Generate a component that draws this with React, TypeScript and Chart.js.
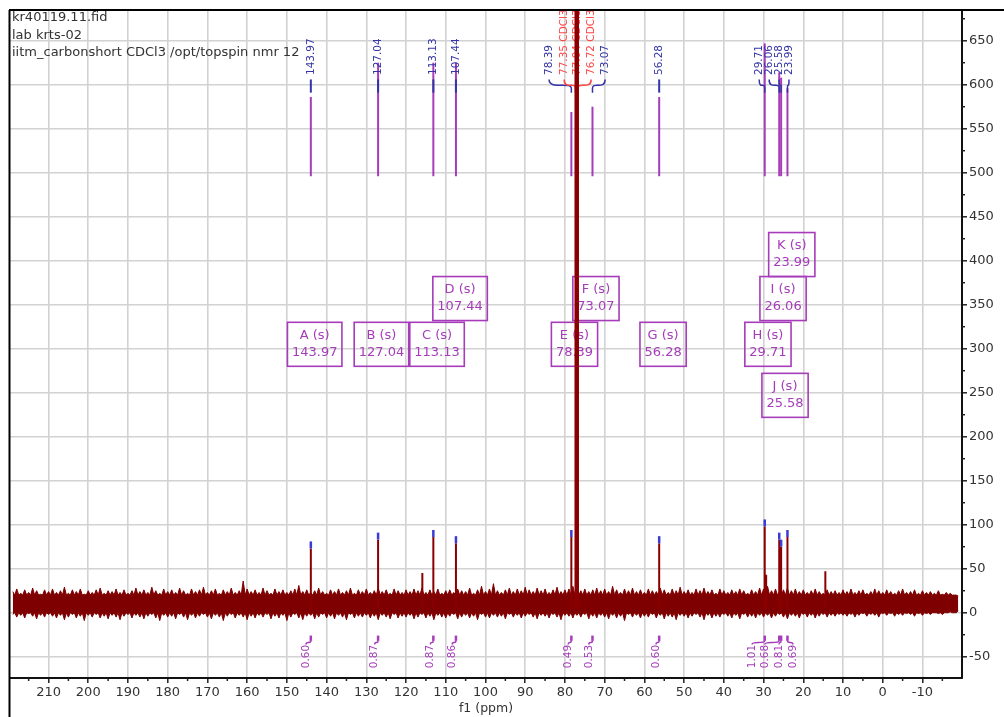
import React, { useEffect, useRef } from 'react';
import { Chart, registerables } from 'chart.js';

Chart.register(...registerables);

// ---------------- data ----------------
const headerLines = ['kr40119.11.fid', 'lab krts-02', 'iitm_carbonshort CDCl3 /opt/topspin nmr 12'];
const xAxisTitle = 'f1 (ppm)';
const xMinPpm = -19.95;
const xMaxPpm = 219.7;
const yMinVal = -74.2;
const yMaxVal = 684.9;

// baseline noise: spike tips, one value per ppm starting at 219 ppm and going down,
// and the solid core edges of the noise band between the tips
const bandFirstPpm = 219;
const bandCoreTop = 20;
const bandCoreBottom = 0;
const bandUpper = [
  24, 27, 22, 26, 23, 28, 25, 21, 26, 24,
  27, 23, 25, 29, 22, 26, 24, 27, 21, 25,
  23, 26, 28, 22, 25, 24, 27, 23, 26, 22,
  25, 28, 24, 26, 23, 29, 25, 22, 27, 24,
  26, 23, 28, 25, 22, 27, 24, 26, 29, 23,
  25, 27, 22, 26, 24, 28, 23, 25, 36, 27,
  24, 26, 23, 28, 25, 22, 27, 24, 26, 23,
  25, 27, 31, 24, 26, 23, 25, 28, 24, 22,
  26, 24, 27, 23, 25, 28, 22, 26, 24, 27,
  23, 25, 28, 24, 26, 22, 27, 25, 23, 26,
  24, 27, 25, 28, 23, 26, 24, 27, 22, 25,
  26, 23, 27, 25, 24, 28, 22, 26, 30, 24,
  27, 33, 25, 23, 26, 28, 24, 27, 25, 29,
  26, 24, 28, 25, 27, 23, 26, 29, 24, 26,
  27, 30, 28, 25, 27, 24, 26, 28, 25, 27,
  24, 30, 26, 23, 27, 25, 28, 24, 26, 23,
  27, 25, 24, 28, 26, 23, 27, 25, 29, 24,
  26, 23, 27, 25, 28, 24, 26, 22, 27, 25,
  23, 26, 24, 27, 25, 22, 26, 24, 28, 27,
  30, 25, 27, 24, 26, 28, 25, 27, 24, 26,
  23, 25, 27, 24, 22, 26, 24, 25, 23, 26,
  24, 27, 23, 25, 26, 22, 24, 27, 25, 23,
  26, 24, 22, 25, 27, 23, 24, 26, 22, 25,
  23, 24, 22, 25, 21, 23, 22, 20, 19,
];
const bandLower = [
  -2, -5, -3, -6, -1, -4, -7, -3, -5, -2,
  -4, -6, -3, -8, -5, -2, -6, -4, -9, -3,
  -5, -2, -6, -4, -7, -3, -5, -8, -4, -2,
  -6, -3, -5, -7, -4, -2, -6, -9, -3, -5,
  -4, -7, -2, -5, -8, -3, -6, -4, -2, -5,
  -7, -3, -5, -9, -4, -2, -6, -3, -5, -8,
  -4, -6, -3, -5, -2, -7, -4, -6, -3, -9,
  -5, -2, -6, -8, -4, -3, -7, -5, -2, -6,
  -4, -7, -3, -5, -8, -2, -6, -4, -5, -3,
  -6, -4, -8, -3, -5, -7, -2, -6, -4, -5,
  -3, -7, -5, -2, -6, -4, -8, -3, -5, -6,
  -4, -2, -7, -5, -3, -6, -4, -8, -2, -5,
  -6, -3, -5, -4, -7, -2, -5, -3, -6, -4,
  -2, -5, -7, -3, -4, -6, -2, -5, -8, -3,
  -4, -6, -3, -5, -2, -7, -4, -6, -3, -5,
  -7, -3, -6, -4, -9, -2, -5, -3, -6, -4,
  -5, -2, -6, -3, -7, -4, -5, -8, -3, -4,
  -6, -4, -2, -5, -8, -3, -6, -4, -5, -2,
  -4, -6, -3, -7, -2, -5, -4, -6, -3, -5,
  -3, -6, -4, -2, -5, -7, -3, -4, -6, -2,
  -5, -3, -6, -4, -2, -5, -3, -4, -2, -3,
  -4, -2, -5, -3, -1, -4, -2, -3, -5, -1,
  -3, -1, -4, -2, -3, -1, -2, -4, -1, -3,
  -1, -2, 0, -1, -2, 0, 1, 0, 2,
];

// spectrum peaks
const peakShifts = [143.97, 127.04, 115.9, 113.13, 107.44, 78.39, 77.35, 77.04, 76.72, 56.28, 29.71, 29.35, 26.06, 25.58, 23.99, 14.45];
const peakHeights = [73, 83, 45, 86, 79, 86, 3000, 3000, 3000, 79, 98, 43, 83, 75, 86, 47];

// picked peaks (blue tops)
const pickedShifts = [143.97, 127.04, 113.13, 107.44, 78.39, 56.28, 29.71, 26.06, 25.58, 23.99];
const pickedHeights = [73, 83, 86, 79, 86, 79, 98, 83, 75, 86];

// peak labels at top
const peakLabels = ['143.97', '127.04', '113.13', '107.44', '78.39', '77.35 CDCl3', '77.04 CDCl3', '76.72 CDCl3', '73.07', '56.28', '29.71', '26.06', '25.58', '23.99'];
const peakLabelShifts = [143.97, 127.04, 113.13, 107.44, 78.39, 77.35, 77.04, 76.72, 73.07, 56.28, 29.71, 26.06, 25.58, 23.99];
const peakLabelSolvent = [false, false, false, false, false, true, true, true, false, false, false, false, false, false];

// multiplets
const multipletNames = ['A', 'B', 'C', 'D', 'E', 'F', 'G', 'H', 'I', 'J', 'K'];
const multipletShifts = [143.97, 127.04, 113.13, 107.44, 78.39, 73.07, 56.28, 29.71, 26.06, 25.58, 23.99];
const multipletBarTops = [586, 625, 625, 625, 569, 575, 586, 647, 614, 608, 596];
const multipletIntegrals = ['0.60', '0.87', '0.87', '0.86', '0.49', '0.53', '0.60', '1.01', '0.68', '0.81', '0.69'];

// ---------------- layout (annotation anchors) ----------------
const peakLabelAnchorPpm = [143.97, 127.04, 113.13, 107.44, 84.0, 80.2, 76.97, 73.4, 69.9, 56.28, 31.1, 28.6, 26.1, 23.6];
const boxAnchorPpm = [143.0, 126.2, 112.2, 106.4, 77.6, 72.2, 55.3, 28.9, 25.1, 24.6, 22.9];
const boxAnchorVal = [305, 305, 305, 357, 305, 357, 305, 305, 357, 247, 407];
const integralAnchorPpm = [145.2, 127.9, 113.9, 108.4, 79.2, 74.0, 57.1, 32.9, 29.7, 26.1, 22.6];

const SPEC = '#7f0000';
const BLUE = '#3434a6';
const RED = '#ff4545';
const PURPLE = '#a63cba';
const FONT = '"DejaVu Sans", Verdana, sans-serif';

const annotPlugin = {
  id: 'nmrAnnot',
  beforeDatasetsDraw(chart: any) {
    const { ctx, chartArea: ca, scales } = chart;
    const x = scales.x, y = scales.y;
    ctx.save();
    ctx.beginPath();
    ctx.rect(ca.left, ca.top, ca.right - ca.left, ca.bottom - ca.top);
    ctx.clip();

    const line = (x1: number, y1: number, x2: number, y2: number) => {
      ctx.beginPath(); ctx.moveTo(x1, y1); ctx.lineTo(x2, y2); ctx.stroke();
    };

    // header text
    ctx.fillStyle = '#333';
    ctx.font = `13px ${FONT}`;
    ctx.textAlign = 'left';
    ctx.textBaseline = 'middle';
    headerLines.forEach((t, i) => ctx.fillText(t, ca.left + 2, ca.top + 8 + i * 17.5));

    // multiplet bars
    ctx.strokeStyle = PURPLE;
    ctx.lineWidth = 2;
    multipletShifts.forEach((s, i) => {
      const px = x.getPixelForValue(s);
      line(px, y.getPixelForValue(496), px, y.getPixelForValue(multipletBarTops[i]));
    });

    // peak labels
    ctx.font = `10.5px ${FONT}`;
    peakLabels.forEach((t, i) => {
      const ax = x.getPixelForValue(peakLabelAnchorPpm[i]);
      const px = x.getPixelForValue(peakLabelShifts[i]);
      const col = peakLabelSolvent[i] ? RED : BLUE;
      ctx.save();
      ctx.translate(ax, y.getPixelForValue(611));
      ctx.rotate(-Math.PI / 2);
      ctx.textAlign = 'left';
      ctx.textBaseline = 'middle';
      ctx.fillStyle = col;
      ctx.fillText(t, 0, 0);
      ctx.restore();
      const y1 = y.getPixelForValue(606), y2 = y.getPixelForValue(596), y3 = y.getPixelForValue(591);
      ctx.strokeStyle = col;
      ctx.beginPath();
      if (Math.abs(ax - px) < 0.5) {
        ctx.lineWidth = 2;
        ctx.moveTo(px, y1); ctx.lineTo(px, y3);
      } else {
        ctx.lineWidth = 1.5;
        ctx.moveTo(ax, y1);
        ctx.bezierCurveTo(ax, y2 + 2, px, y1 + 2, px, y2);
        ctx.lineTo(px, y3);
      }
      ctx.stroke();
    });

    // multiplet boxes
    ctx.font = `13px ${FONT}`;
    multipletNames.forEach((n, i) => {
      const cx = x.getPixelForValue(boxAnchorPpm[i]);
      const cy = y.getPixelForValue(boxAnchorVal[i]);
      const l1 = `${n} (s)`;
      const l2 = multipletShifts[i].toFixed(2);
      const w = Math.max(ctx.measureText(l1).width, ctx.measureText(l2).width) + 9;
      const h = 44;
      ctx.strokeStyle = PURPLE;
      ctx.lineWidth = 1.6;
      ctx.strokeRect(cx - w / 2, cy - h / 2, w, h);
      ctx.fillStyle = PURPLE;
      ctx.textAlign = 'center';
      ctx.textBaseline = 'middle';
      ctx.fillText(l1, cx, cy - 9);
      ctx.fillText(l2, cx, cy + 8);
    });

    // integrals
    ctx.font = `10.5px ${FONT}`;
    multipletIntegrals.forEach((t, i) => {
      const px = x.getPixelForValue(multipletShifts[i]);
      const tx = x.getPixelForValue(integralAnchorPpm[i]);
      const yA = y.getPixelForValue(-26), yB = y.getPixelForValue(-32), yT = y.getPixelForValue(-36);
      ctx.strokeStyle = PURPLE;
      ctx.lineWidth = 2.5;
      line(px, yA, px, yB);
      ctx.lineWidth = 1.5;
      ctx.beginPath();
      ctx.moveTo(px, yB);
      ctx.bezierCurveTo(px, yT, tx, yB, tx, yT);
      ctx.stroke();
      ctx.save();
      ctx.translate(tx, y.getPixelForValue(-63));
      ctx.rotate(-Math.PI / 2);
      ctx.textAlign = 'left';
      ctx.textBaseline = 'middle';
      ctx.fillStyle = PURPLE;
      ctx.fillText(t, 0, 0);
      ctx.restore();
    });

    ctx.restore();
  },
  afterDatasetsDraw(chart: any) {
    const { ctx, chartArea: ca, scales } = chart;
    const x = scales.x, y = scales.y;
    ctx.save();
    ctx.beginPath();
    ctx.rect(ca.left, ca.top, ca.right - ca.left, ca.bottom - ca.top);
    ctx.clip();
    ctx.strokeStyle = '#3b3bd6';
    ctx.lineWidth = 2.5;
    pickedShifts.forEach((s, i) => {
      const px = x.getPixelForValue(s);
      ctx.beginPath();
      ctx.moveTo(px, y.getPixelForValue(pickedHeights[i]));
      ctx.lineTo(px, y.getPixelForValue(pickedHeights[i] + 8));
      ctx.stroke();
    });
    ctx.restore();
  },
  afterDraw(chart: any) {
    const { ctx, chartArea: ca, scales, width, height } = chart;
    const x = scales.x, y = scales.y;
    ctx.save();
    ctx.strokeStyle = '#000';
    ctx.lineWidth = 2;
    ctx.beginPath();
    ctx.moveTo(ca.left - 1, ca.top); ctx.lineTo(width, ca.top);
    ctx.moveTo(ca.left - 0.5, ca.top); ctx.lineTo(ca.left - 0.5, height);
    ctx.stroke();
    // minor ticks
    ctx.strokeStyle = '#222';
    ctx.lineWidth = 1.5;
    for (let v = -15; v <= 215; v += 10) {
      const px = x.getPixelForValue(v);
      ctx.beginPath(); ctx.moveTo(px, ca.bottom); ctx.lineTo(px, ca.bottom + 3); ctx.stroke();
    }
    for (let v = -25; v <= 675; v += 50) {
      const py = y.getPixelForValue(v);
      ctx.beginPath(); ctx.moveTo(ca.right, py); ctx.lineTo(ca.right + 3, py); ctx.stroke();
    }
    ctx.fillStyle = '#333';
    ctx.font = `12.5px ${FONT}`;
    ctx.textAlign = 'center';
    ctx.textBaseline = 'middle';
    ctx.fillText(xAxisTitle, (ca.left + ca.right) / 2, 709);
    ctx.restore();
  },
};

export default function App() {
  const ref = useRef<HTMLCanvasElement | null>(null);
  useEffect(() => {
    if (!ref.current) return;
    const upper: { x: number; y: number }[] = [];
    const lower: { x: number; y: number }[] = [];
    bandUpper.forEach((v, i) => {
      const p = bandFirstPpm - i;
      upper.push({ x: p, y: v });
      lower.push({ x: p, y: bandLower[i] });
      if (i < bandUpper.length - 1) {
        upper.push({ x: p - 0.5, y: bandCoreTop });
        lower.push({ x: p - 0.5, y: bandCoreBottom });
      }
    });
    const peaks: { x: number; y: number | null }[] = [];
    peakShifts.forEach((s, i) => {
      peaks.push({ x: s, y: 5 }, { x: s, y: peakHeights[i] }, { x: s, y: 5 }, { x: s, y: null });
    });
    const tickFont = { family: '"DejaVu Sans", Verdana, sans-serif', size: 13 };
    const chart = new Chart(ref.current, {
      type: 'line',
      data: {
        datasets: [
          {
            data: peaks as any,
            borderColor: '#8a0000',
            borderWidth: 2,
            pointRadius: 0,
            spanGaps: false,
            fill: false,
          },
          {
            data: upper,
            borderColor: SPEC,
            backgroundColor: SPEC,
            borderWidth: 1,
            pointRadius: 0,
            fill: '+1',
          },
          {
            data: lower,
            borderColor: SPEC,
            borderWidth: 1,
            pointRadius: 0,
            fill: false,
          },
        ],
      },
      options: {
        animation: false,
        responsive: false,
        maintainAspectRatio: false,
        layout: { padding: { left: 10, top: 10, right: 0, bottom: 0 } },
        plugins: { legend: { display: false }, tooltip: { enabled: false }, title: { display: false } },
        scales: {
          x: {
            type: 'linear',
            reverse: true,
            min: xMinPpm,
            max: xMaxPpm,
            position: 'bottom',
            afterFit: (s: any) => { s.height = 39; s.paddingLeft = 0; s.paddingRight = 0; },
            ticks: { stepSize: 10, includeBounds: false, autoSkip: false, maxRotation: 0, font: tickFont, color: '#333', padding: 2 },
            grid: { color: '#d2d2d2', lineWidth: 1.6, tickColor: '#222', tickLength: 5, tickWidth: 1.5 },
            border: { color: '#111', width: 2 },
          },
          y: {
            type: 'linear',
            position: 'right',
            min: yMinVal,
            max: yMaxVal,
            afterFit: (s: any) => { s.width = 42; s.paddingTop = 0; s.paddingBottom = 0; },
            ticks: { stepSize: 50, includeBounds: false, font: tickFont, color: '#333', padding: 2 },
            grid: { color: '#d2d2d2', lineWidth: 1.6, tickColor: '#222', tickLength: 5, tickWidth: 1.5 },
            border: { color: '#111', width: 2 },
          },
        },
      } as any,
      plugins: [annotPlugin],
    });
    return () => chart.destroy();
  }, []);
  return (
    <div style={{ position: 'fixed', left: 0, top: 0, width: 1004, height: 717, background: '#fff' }}>
      <canvas ref={ref} width={1004} height={717} style={{ display: 'block' }} />
    </div>
  );
}
